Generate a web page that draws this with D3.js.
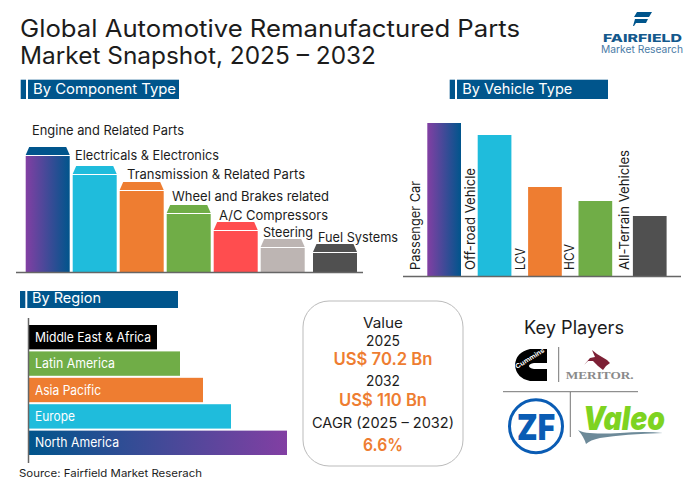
<!DOCTYPE html>
<html>
<head>
<meta charset="utf-8">
<script src="https://cdn.jsdelivr.net/npm/d3@7"></script>
<style>
  html, body { margin: 0; padding: 0; background: #fff; }
  svg { display: block; }
  text { font-family: Inter, "Open Sans", sans-serif; }
</style>
</head>
<body>
<div id="chart"></div>
<script>
// values are read off the picture (bar heights, no scale is printed in the original)
const componentNames = ["Engine and Related Parts", "Electricals & Electronics", "Transmission & Related Parts",
  "Wheel and Brakes related", "A/C Compressors", "Steering", "Fuel Systems"];
const componentValues = [125, 106, 90, 67, 50, 33, 28];

const vehicleNames = ["Passenger Car", "Off-road Vehicle", "LCV", "HCV", "All-Terrain Vehicles"];
const vehicleValues = [153, 141, 89, 75, 60];

const regionNames = ["Middle East & Africa", "Latin America", "Asia Pacific", "Europe", "North America"];
const regionValues = [128, 151, 174, 202, 258];

// layout of the labels, kept apart from the values
const componentLabelX = [32, 75, 127, 172, 219, 263, 318];
const componentLabelY = [135, 160, 179, 201, 220, 237, 242];
const componentLabelW = [152, 144, 178, 157, 109, 50, 80];
const vehicleLabelX = [420, 475, 525, 574, 629];
const vehicleLabelW = [89, 102, 22, 26, 120];
const regionLabelW = [116, 80, 66, 40, 84];

const blue = "#00558c", cyan = "#1fbcdc", orange = "#ee7d31", green = "#70ad47", red = "#ff4d4f",
  stone = "#bdb5b3", dark = "#505050";
const componentColors = ["url(#gradRight)", cyan, orange, green, red, stone, dark];
const capColors = [blue, cyan, orange, green, red, stone, dark];
const vehicleColors = ["url(#gradRight)", cyan, orange, green, dark];
const regionColors = ["#000", green, orange, cyan, "url(#gradLeft)"];

const svg = d3.select("#chart").append("svg").attr("width", 691).attr("height", 485);

const defs = svg.append("defs");
function gradient(id, from, to) {
  const g = defs.append("linearGradient").attr("id", id);
  g.append("stop").attr("offset", "0%").attr("stop-color", from);
  g.append("stop").attr("offset", "100%").attr("stop-color", to);
}
gradient("gradRight", "#823fa3", blue);
gradient("gradLeft", blue, "#823fa3");

// text with its width forced to what the original measures
function label(x, y, str, size, width, opts) {
  opts = opts || {};
  const t = svg.append("text")
    .attr("x", x).attr("y", y)
    .attr("font-size", size)
    .attr("fill", opts.fill || "#1c1c1c")
    .attr("font-weight", opts.weight || 400)
    .attr("text-anchor", opts.anchor || "start")
    .text(str);
  if (width) t.attr("textLength", width).attr("lengthAdjust", "spacingAndGlyphs");
  if (opts.family) t.style("font-family", opts.family);
  if (opts.style) t.style("font-style", opts.style);
  if (opts.rotate) t.attr("transform", `rotate(-90 ${x} ${y})`);
  return t;
}

// title
label(20, 37, "Global Automotive Remanufactured Parts", 24, 500);
label(20, 63.5, "Market Snapshot, 2025 – 2032", 24, 356);

// section headers
function header(x0, x1, y0, y1, textX, baseY, str, width) {
  svg.append("rect").attr("x", x0).attr("y", y0).attr("width", 5.3).attr("height", y1 - y0).attr("fill", blue);
  svg.append("rect").attr("x", x0 + 7.3).attr("y", y0).attr("width", x1 - x0 - 7.3).attr("height", y1 - y0).attr("fill", blue);
  label(textX, baseY, str, 14.5, width, { fill: "#fff" });
}
header(20.7, 179, 79.7, 99, 33, 94, "By Component Type", 143);
header(449.7, 608, 79.7, 99, 462.3, 94, "By Vehicle Type", 110);
header(20, 178, 291, 308, 32, 302.7, "By Region", 69);

// component chart
const compBase = 272;
const compX = d3.scaleBand().domain(componentNames).range([25.7, 351.7]).paddingInner(3 / 47);
const compY = d3.scaleLinear().domain([0, 125]).range([compBase, 147]);
const compNudge = d => (d === "Fuel Systems" ? 5.3 : 0);
const capH = 8;

const comp = svg.append("g").selectAll("g").data(componentNames).join("g")
  .attr("transform", d => `translate(${compX(d) + compNudge(d)},0)`);
comp.append("rect")
  .attr("y", (d, i) => compY(componentValues[i]) + capH + 1)
  .attr("width", compX.bandwidth())
  .attr("height", (d, i) => compBase - compY(componentValues[i]) - capH - 1)
  .attr("fill", (d, i) => componentColors[i]);
comp.append("path")
  .attr("d", (d, i) => {
    const t = compY(componentValues[i]), w = compX.bandwidth();
    return `M0,${t + capH}L3.5,${t}H${w - 3.5}L${w},${t + capH}Z`;
  })
  .attr("fill", (d, i) => capColors[i]);
componentNames.forEach((d, i) => label(componentLabelX[i], componentLabelY[i], d, 13, componentLabelW[i]));

svg.append("line").attr("x1", 16).attr("x2", 363).attr("y1", compBase + 0.5).attr("y2", compBase + 0.5)
  .attr("stroke", "#666").attr("stroke-width", 1.5);

// vehicle chart
const vehBase = 276;
const vehX = d3.scaleBand().domain(vehicleNames).range([427.3, 662.6]).paddingInner(16.7 / 50.4);
const vehY = d3.scaleLinear().domain([0, 153]).range([vehBase, 123]);
const vehNudge = d => (d === "All-Terrain Vehicles" ? 4 : 0);

svg.append("g").selectAll("rect").data(vehicleNames).join("rect")
  .attr("x", d => vehX(d) + vehNudge(d))
  .attr("y", (d, i) => vehY(vehicleValues[i]))
  .attr("width", vehX.bandwidth())
  .attr("height", (d, i) => vehBase - vehY(vehicleValues[i]))
  .attr("fill", (d, i) => vehicleColors[i]);
vehicleNames.forEach((d, i) => label(vehicleLabelX[i], 270, d, 13.5, vehicleLabelW[i], { rotate: true }));

svg.append("line").attr("x1", 403).attr("x2", 681).attr("y1", vehBase + 0.5).attr("y2", vehBase + 0.5)
  .attr("stroke", "#666").attr("stroke-width", 1.5);

// region chart
const regX = d3.scaleLinear().domain([0, 258]).range([29, 287]);
const regY = d3.scaleBand().domain(regionNames).range([325, 455]).paddingInner(2 / 26);

svg.append("g").selectAll("rect").data(regionNames).join("rect")
  .attr("x", regX(0))
  .attr("y", d => regY(d))
  .attr("width", (d, i) => regX(regionValues[i]) - regX(0))
  .attr("height", regY.bandwidth())
  .attr("fill", (d, i) => regionColors[i]);
regionNames.forEach((d, i) =>
  label(35, regY(d) + regY.bandwidth() / 2 + 4.5, d, 13, regionLabelW[i], { fill: "#fff" }));

svg.append("line").attr("x1", 28.5).attr("x2", 28.5).attr("y1", 318).attr("y2", 463)
  .attr("stroke", "#666").attr("stroke-width", 1.5);

label(19, 477, "Source: Fairfield Market Reserach", 10.5, 183);

// value box
svg.append("rect").attr("x", 303).attr("y", 301).attr("width", 160).attr("height", 165).attr("rx", 26)
  .attr("fill", "#fff").attr("stroke", "#bbb");
const mid = { anchor: "middle" };
const hot = { anchor: "middle", fill: orange, weight: 600 };
label(383, 328, "Value", 14, 40, mid);
label(383, 346, "2025", 14, 34, mid);
label(383, 365, "US$ 70.2 Bn", 17, 99, hot);
label(383, 386, "2032", 14, 34, mid);
label(383, 406, "US$ 110 Bn", 17, 88, hot);
label(383, 428, "CAGR (2025 – 2032)", 14, 142, mid);
label(383, 451, "6.6%", 17, 40, hot);

// key players
label(574, 334, "Key Players", 18, 100, mid);
[[558.7, 347, 558.7, 382], [503, 391.7, 638, 391.7], [570.3, 392, 570.3, 437]].forEach(l =>
  svg.append("line").attr("x1", l[0]).attr("y1", l[1]).attr("x2", l[2]).attr("y2", l[3])
    .attr("stroke", "#666").attr("stroke-width", 0.9));

// Cummins mark
svg.append("path")
  .attr("d", "M530,349H547V363H534Q529,364 529,366Q529,368 534,369H547V381H530Q516,378 515,365Q516,352 530,349Z")
  .attr("fill", "#000");
label(517, 369, "Cummins", 6.5, 33, { fill: "#fff", weight: 700 })
  .attr("transform", "rotate(-32 517 369)");

// Meritor mark
svg.append("path")
  .attr("d", "M592,350L597,354L602,357L607,360L610,363L606,366L603,370L598,366L593,361L588,361L584,365L590,358L595,357Z")
  .attr("fill", "#7d2035");
label(565.7, 379, "MERITOR.", 10, 68, { fill: "#8a8a8a", weight: 700, family: "'Liberation Serif', serif" });

// ZF mark
svg.append("circle").attr("cx", 536).attr("cy", 426.3).attr("r", 26.5)
  .attr("fill", "#fff").attr("stroke", "#0a5cb4").attr("stroke-width", 3);
label(517, 440, "ZF", 36, 38, { fill: "#0a5cb4", weight: 900 });

// Valeo mark
label(583, 430, "Valeo", 33, 82, { fill: "#7ed321", weight: 900, style: "italic" });
svg.append("path")
  .attr("d", "M578,430Q585,435 620,433Q645,431 663,433Q625,434 600,438Q590,440 586,444Q584,437 578,430Z")
  .attr("fill", "#6d8a99");

// Fairfield logo
svg.append("path").attr("d", "M637,12H652L649,17H634ZM635,19H648L646,23H636L634,26H633Z").attr("fill", blue);
label(603, 41.5, "FAIRFIELD", 11, 79, { fill: "#14598c", weight: 800 });
label(601, 53, "Market Research", 10.5, 82, { fill: "#4a7ba6" });
</script>
</body>
</html>
